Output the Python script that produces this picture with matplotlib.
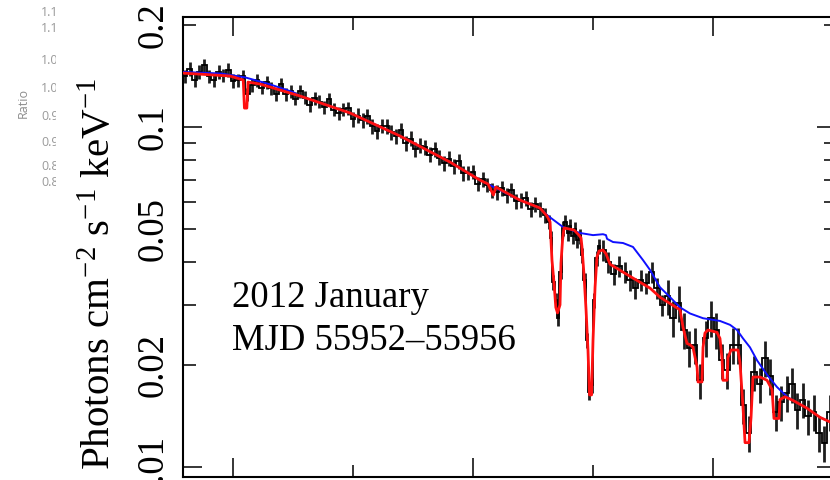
#!/usr/bin/env python3
"""Fe K band spectrum, 2012 January (MJD 55952-55956), with line and continuum models."""

import numpy as np
import matplotlib
matplotlib.use("Agg")
import matplotlib.pyplot as plt
from matplotlib.ticker import FixedLocator, FixedFormatter
from matplotlib.transforms import Bbox, TransformedBbox

# data binning: (start keV, stop keV, bin width keV)
BIN_SEGMENTS = [(3.58, 6.62, 0.04), (6.62, 7.06, 0.02), (7.06, 9.04, 0.045)]

FLUX_LOW = [
    0.1413, 0.1482, 0.1375, 0.1452, 0.1522, 0.1413, 0.1375, 0.1452, 0.1417, 0.1472,
    0.1366, 0.1375, 0.1413, 0.1250, 0.1329, 0.1375, 0.1307, 0.1356, 0.1299, 0.1250,
    0.1338, 0.1250, 0.1276, 0.1212, 0.1276, 0.1220, 0.1161, 0.1217, 0.1188, 0.1145,
    0.1209, 0.1126, 0.1099, 0.1130, 0.1137, 0.1053, 0.1080, 0.1049, 0.1077, 0.1007,
    0.0971, 0.1009, 0.1007, 0.0967, 0.0939, 0.0977, 0.0897, 0.0925, 0.0861, 0.0882,
    0.0873, 0.0830, 0.0861, 0.0813, 0.0784, 0.0808, 0.0766, 0.0794, 0.0732, 0.0733,
    0.0738, 0.0681, 0.0702, 0.0676, 0.0653, 0.0644, 0.0661, 0.0630, 0.0654, 0.0606,
    0.0608, 0.0617, 0.0574, 0.0594, 0.0574, 0.0551,
]
FLUX_FEK = [
    0.0526, 0.0472, 0.0350, 0.0310, 0.0274, 0.0375, 0.0505, 0.0526, 0.0488, 0.0512,
    0.0478, 0.0501, 0.0465, 0.0478, 0.0420, 0.0355, 0.0236, 0.0166, 0.0174, 0.0310,
    0.0412, 0.0447,
]
FLUX_HIGH = [
    0.0435, 0.0401, 0.0370, 0.0390, 0.0375, 0.0355, 0.0336, 0.0355, 0.0348, 0.0375,
    0.0336, 0.0300, 0.0318, 0.0274, 0.0304, 0.0253, 0.0224, 0.0229, 0.0180, 0.0240,
    0.0274, 0.0253, 0.0206, 0.0193, 0.0229, 0.0229, 0.0152, 0.0126, 0.0190, 0.0175,
    0.0209, 0.0185, 0.0145, 0.0155, 0.0165, 0.0175, 0.0147, 0.0158, 0.0141, 0.0145,
    0.0126, 0.0118, 0.0145, 0.0138,
]

# fractional 1-sigma error by energy band
ERR_BAND_EDGES = [3.5, 5.0, 6.62, 7.06, 7.6, 9.1]
ERR_FRAC = [0.045, 0.05, 0.05, 0.07, 0.12]

# absorbed model (red)
RED_E = [3.583, 3.975, 4.085, 4.095, 4.115, 4.125, 4.225, 4.558, 4.975, 5.392,
         5.808, 6.058, 6.125, 6.17, 6.19, 6.39, 6.558, 6.617, 6.642, 6.658,
         6.675, 6.69, 6.704, 6.725, 6.733, 6.746, 6.758, 6.842, 6.883, 6.9,
         6.908, 6.925, 6.942, 6.958, 6.971, 6.988, 7.0, 7.017, 7.033, 7.05,
         7.083, 7.108, 7.142, 7.308, 7.475, 7.558, 7.725, 7.75, 7.783, 7.808,
         7.833, 7.867, 7.875, 7.908, 7.917, 7.933, 7.958, 8.033, 8.058, 8.075,
         8.083, 8.117, 8.125, 8.15, 8.208, 8.225, 8.25, 8.267, 8.30, 8.317,
         8.333, 8.392, 8.45, 8.492, 8.508, 8.55, 8.558, 8.60, 8.667, 8.783,
         8.892, 9.03]
RED_F = [0.1441, 0.1413, 0.1375, 0.1137, 0.1137, 0.1356, 0.1338, 0.1234, 0.1100, 0.0941,
         0.0789, 0.0698, 0.0680, 0.0631, 0.0666, 0.0610, 0.0578, 0.0547, 0.0526, 0.0406,
         0.0348, 0.0295, 0.0284, 0.0300, 0.0398, 0.0465, 0.0505, 0.0498, 0.0481, 0.0472,
         0.0444, 0.0367, 0.0290, 0.0221, 0.0163, 0.0163, 0.0236, 0.0338, 0.0415, 0.0432,
         0.0435, 0.0424, 0.0395, 0.0364, 0.0336, 0.0316, 0.0290, 0.0258, 0.0231, 0.0229,
         0.0225, 0.0197, 0.0178, 0.0178, 0.0225, 0.0248, 0.0253, 0.0249, 0.0239, 0.0209,
         0.0180, 0.0180, 0.0210, 0.0221, 0.0221, 0.0203, 0.0150, 0.0118, 0.0118, 0.0140,
         0.0184, 0.0184, 0.0180, 0.0169, 0.0139, 0.0139, 0.0158, 0.0161, 0.0157, 0.0149,
         0.0140, 0.0133]

# same model without the absorption lines (blue)
BLUE_E = [3.583, 3.9, 4.1, 4.3, 4.5, 4.558, 4.975, 5.392, 5.808, 6.058,
          6.2, 6.39, 6.558, 6.617, 6.75, 6.892, 7.0, 7.083, 7.108, 7.117,
          7.167, 7.25, 7.333, 7.417, 7.475, 7.558, 7.642, 7.725, 7.808, 7.917,
          8.058, 8.142, 8.2, 8.25, 8.308, 8.367, 8.45, 8.533, 8.617, 8.667,
          8.783, 8.892, 9.03]
BLUE_F = [0.1452, 0.1437, 0.1400, 0.1338, 0.1267, 0.1234, 0.1100, 0.0941, 0.0789, 0.0698,
          0.0659, 0.0610, 0.0578, 0.0551, 0.0508, 0.0488, 0.0481, 0.0484, 0.0481, 0.0469,
          0.0459, 0.0456, 0.0444, 0.0406, 0.0380, 0.0338, 0.0316, 0.0295, 0.0283, 0.0274,
          0.0269, 0.0262, 0.0253, 0.0239, 0.0225, 0.0206, 0.0187, 0.0172, 0.0161, 0.0157,
          0.0149, 0.0140, 0.0133]

# leftover tick labels of the neighbouring ratio panel
RATIO_LABELS = ["1.15", "1.10", "1.05", "1.00", "0.95", "0.90", "0.85", "0.80"]
RATIO_LABEL_Y = [13, 28, 60, 88, 117, 142, 167, 182]   # px from top

W, H = 830, 480
FS = 26.5

plt.rcParams["font.family"] = ["Liberation Serif", "DejaVu Serif"]
plt.rcParams["mathtext.fontset"] = "custom"
plt.rcParams["mathtext.rm"] = "Liberation Serif"
plt.rcParams["mathtext.it"] = "Liberation Serif:italic"


def bin_edges(segments):
    edges = [segments[0][0]]
    for start, stop, width in segments:
        n = int(round((stop - start) / width))
        edges.extend(start + width * np.arange(1, n + 1))
    return np.array(edges)


edges = bin_edges(BIN_SEGMENTS)
centers = 0.5 * (edges[:-1] + edges[1:])
flux = np.array(FLUX_LOW + FLUX_FEK + FLUX_HIGH)
frac = np.array(ERR_FRAC)[np.digitize(centers, ERR_BAND_EDGES) - 1]
err = flux * frac

fig = plt.figure(figsize=(W / 100, H / 100), dpi=100)
ax = fig.add_axes([183 / W, 3 / H, 653 / W, 460 / H])

ax.errorbar(centers, flux, yerr=err, fmt="none", ecolor="#1e1e1e",
            elinewidth=2.0, capsize=0, zorder=1)
ax.stairs(flux, edges, color="black", lw=1.3, zorder=2)
ax.plot(BLUE_E, BLUE_F, color="#1010ff", lw=1.4, zorder=3)
ax.plot(RED_E, RED_F, color="#ff1010", lw=2.0, zorder=4)

ax.set_yscale("log")
ax.set_xlim(3.583, 9.025)
ax.set_ylim(0.00935, 0.2107)

ax.xaxis.set_major_locator(FixedLocator([4, 6, 8]))
ax.xaxis.set_minor_locator(FixedLocator([5, 7]))
ax.yaxis.set_major_locator(FixedLocator([0.01, 0.1]))
ax.yaxis.set_major_formatter(FixedFormatter(["0.01", "0.1"]))
minor_y = [0.02, 0.03, 0.04, 0.05, 0.06, 0.07, 0.08, 0.09, 0.2]
ax.yaxis.set_minor_locator(FixedLocator(minor_y))
ax.yaxis.set_minor_formatter(FixedFormatter(["0.02", "", "", "0.05", "", "", "", "", "0.2"]))

ax.tick_params(which="both", direction="in", top=True, right=True,
               width=1.1, labelbottom=False, labelsize=FS)
ax.tick_params(which="major", length=14)
ax.tick_params(which="minor", length=9)
ax.tick_params(axis="y", which="both", labelrotation=90, pad=9)
for lab in ax.get_yticklabels(which="both"):
    lab.set_verticalalignment("center")

for s in ax.spines.values():
    s.set_linewidth(1.5)

fig.text(100 / W, 206 / H, r"Photons cm$^{-2}$ s$^{-1}$ keV$^{-1}$",
         rotation=90, ha="center", va="center", fontsize=29.5)
fig.text(232 / W, (H - 307) / H, "2012 January", va="baseline", fontsize=FS)
fig.text(232 / W, (H - 350) / H, "MJD 55952\u201355956", va="baseline", fontsize=FS)

# ghost of the ratio panel on the far left, cut off at its right edge
clip = TransformedBbox(Bbox([[0, 0], [56 / W, 1]]), fig.transFigure)
fig.text(23 / W, (H - 103) / H, "Ratio", rotation=90, ha="center", va="center",
         fontsize=9, color="#8c8c8c", family=["Open Sans", "DejaVu Sans"])
for lab, y in zip(RATIO_LABELS, RATIO_LABEL_Y):
    t = fig.text(41 / W, (H - y) / H, lab, ha="left", va="center", fontsize=9,
                 color="#9a9a9a", family=["Open Sans", "DejaVu Sans"])
    t.set_clip_box(clip)
    t.set_clip_on(True)

fig.savefig("out.png", dpi=100)
